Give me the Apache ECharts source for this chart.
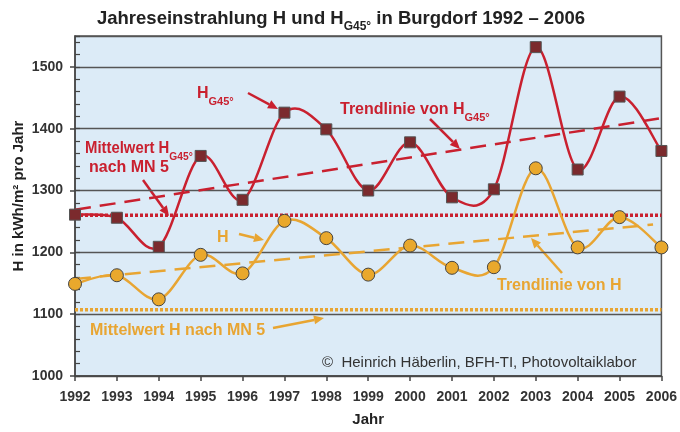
<!DOCTYPE html>
<html>
<head>
<meta charset="utf-8">
<script src="https://cdn.jsdelivr.net/npm/echarts@6/dist/echarts.min.js"></script>
<style>
  html, body { margin: 0; padding: 0; background: #fff; }
  #chart { width: 680px; height: 432px; }
</style>
</head>
<body>
<div id="chart"></div>
<script>
// Jahreswerte (kWh/m2)
const years = [1992, 1993, 1994, 1995, 1996, 1997, 1998, 1999, 2000, 2001, 2002, 2003, 2004, 2005, 2006];
const hG45 = [1261, 1256, 1209, 1356, 1285, 1426, 1399, 1300, 1378, 1289, 1302, 1532, 1334, 1452, 1364];
const h = [1149, 1163, 1124, 1196, 1166, 1251, 1223, 1164, 1211, 1175, 1176, 1336, 1208, 1257, 1208];
// Mittelwerte nach MN 5
const meanYears = [1992, 2006];
const meanHG45 = [1260, 1260];
const meanH = [1107, 1107];
// Trendlinien
const trendHG45Years = [1992, 2006];
const trendHG45 = [1269, 1417];
const trendHYears = [1992, 2005.8];
const trendH = [1157, 1245];

const RED = '#c9202f';
const ORANGE = '#e8a532';
const FONT = 'Liberation Sans';

const pairs = (xs, ys) => xs.map((x, i) => [x, ys[i]]);

// Kurve durch alle Punkte (Catmull-Rom), Koordinaten via api.coord
function splineItem(points, color) {
  return function (params, api) {
    if (params.dataIndex !== 0) return null;
    const p = points.map(d => api.coord(d));
    let path = 'M' + p[0][0] + ' ' + p[0][1];
    for (let i = 0; i < p.length - 1; i++) {
      const p0 = p[Math.max(i - 1, 0)], p1 = p[i], p2 = p[i + 1], p3 = p[Math.min(i + 2, p.length - 1)];
      const c1x = p1[0] + (p2[0] - p0[0]) / 6, c1y = p1[1] + (p2[1] - p0[1]) / 6;
      const c2x = p2[0] - (p3[0] - p1[0]) / 6, c2y = p2[1] - (p3[1] - p1[1]) / 6;
      path += ' C' + c1x + ' ' + c1y + ' ' + c2x + ' ' + c2y + ' ' + p2[0] + ' ' + p2[1];
    }
    return {
      type: 'path', shape: { pathData: path },
      style: { fill: 'none', stroke: color, lineWidth: 2.5 }
    };
  };
}

function arrow(x1, y1, x2, y2, color) {
  const a = Math.atan2(y2 - y1, x2 - x1), L = 10, W = 4.5;
  const bx = x2 - L * Math.cos(a), by = y2 - L * Math.sin(a);
  const px = -Math.sin(a) * W, py = Math.cos(a) * W;
  return {
    type: 'group', z: 20, children: [
      { type: 'line', shape: { x1: x1, y1: y1, x2: bx, y2: by }, style: { stroke: color, lineWidth: 2.5 } },
      { type: 'polygon', shape: { points: [[x2, y2], [bx + px, by + py], [bx - px, by - py]] }, style: { fill: color } }
    ]
  };
}

function label(x, y, text, color, size, scaleX) {
  return {
    type: 'text', x: x, y: y, z: 20, scaleX: scaleX || 1,
    style: {
      text: text, fill: color, verticalAlign: 'middle',
      rich: {
        a: { fontFamily: FONT, fontWeight: 'bold', fontSize: size, fill: color, lineHeight: size + 2 },
        b: { fontFamily: FONT, fontWeight: 'bold', fontSize: size - 5, fill: color, verticalAlign: 'bottom', padding: [0, 0, -4, 0] }
      }
    }
  };
}

const chart = echarts.init(document.getElementById('chart'));
chart.setOption({
  animation: false,
  backgroundColor: '#fff',
  grid: {
    left: 75, right: 17, top: 36, bottom: 52,
    show: true, backgroundColor: '#dcebf7', borderColor: '#555', borderWidth: 1.5
  },
  xAxis: {
    type: 'value', min: 1992, max: 2006, interval: 1,
    name: 'Jahr', nameLocation: 'middle', nameGap: 36,
    nameTextStyle: { fontFamily: FONT, fontWeight: 'bold', fontSize: 15, color: '#222' },
    axisLine: { lineStyle: { color: '#444', width: 1.5 } },
    axisTick: { length: 5, lineStyle: { color: '#444', width: 1.5 } },
    axisLabel: { margin: 14, fontFamily: FONT, fontWeight: 'bold', fontSize: 14, color: '#333', formatter: v => String(v) },
    splitLine: { show: false }
  },
  yAxis: [{
    type: 'value', min: 1000, max: 1550, interval: 100, position: 'left',
    axisLine: { show: true, lineStyle: { color: '#444', width: 1.5 } },
    axisTick: { length: 5, lineStyle: { color: '#444', width: 1.5 } },
    axisLabel: { showMaxLabel: false, margin: 12, fontFamily: FONT, fontWeight: 'bold', fontSize: 14, color: '#333', formatter: v => String(v) },
    splitLine: { lineStyle: { color: '#555', width: 1.3 } }
  }, {
    type: 'value', min: 1000, max: 1550, interval: 20, position: 'left',
    axisLine: { show: false },
    axisTick: { inside: true, length: 5, lineStyle: { color: '#444', width: 1.2 } },
    axisLabel: { show: false },
    splitLine: { show: false }
  }],
  series: [
    {
      type: 'line', name: 'Mittelwert HG45', data: pairs(meanYears, meanHG45), symbol: 'none', z: 2,
      lineStyle: { color: RED, width: 3.5, type: [3, 2] }
    },
    {
      type: 'line', name: 'Mittelwert H', data: pairs(meanYears, meanH), symbol: 'none', z: 2,
      lineStyle: { color: ORANGE, width: 3.5, type: [3, 2] }
    },
    {
      type: 'line', name: 'Trend HG45', data: pairs(trendHG45Years, trendHG45), symbol: 'none', z: 2,
      lineStyle: { color: RED, width: 2.5, type: [16, 9] }
    },
    {
      type: 'line', name: 'Trend H', data: pairs(trendHYears, trendH), symbol: 'none', z: 2,
      lineStyle: { color: ORANGE, width: 2.5, type: [16, 9] }
    },
    {
      type: 'custom', name: 'HG45 Kurve', data: pairs(years, hG45), z: 4,
      encode: { x: 0, y: 1 }, renderItem: splineItem(pairs(years, hG45), RED)
    },
    {
      type: 'custom', name: 'H Kurve', data: pairs(years, h), z: 4,
      encode: { x: 0, y: 1 }, renderItem: splineItem(pairs(years, h), ORANGE)
    },
    {
      type: 'scatter', name: 'HG45', data: pairs(years, hG45), z: 6,
      symbol: 'rect', symbolSize: 11,
      itemStyle: { color: '#7b2a2d', borderColor: '#555', borderWidth: 1, opacity: 1 }
    },
    {
      type: 'scatter', name: 'H', data: pairs(years, h), z: 6,
      symbol: 'circle', symbolSize: 13,
      itemStyle: { color: '#e9a82c', borderColor: '#444', borderWidth: 1, opacity: 1 }
    }
  ],
  graphic: [
    {
      type: 'text', x: 341, y: 19, z: 20,
      style: {
        text: '{a|Jahreseinstrahlung H und H}{b|G45°}{a| in Burgdorf 1992 – 2006}',
        align: 'center', verticalAlign: 'middle',
        rich: {
          a: { fontFamily: FONT, fontWeight: 'bold', fontSize: 18.5, fill: '#222', lineHeight: 20 },
          b: { fontFamily: FONT, fontWeight: 'bold', fontSize: 12, fill: '#222', verticalAlign: 'bottom', padding: [0, 0, -4, 0] }
        }
      }
    },
    {
      type: 'text', x: 19, y: 196, rotation: Math.PI / 2, z: 20,
      style: { text: 'H in kWh/m² pro Jahr', fill: '#222', align: 'center', verticalAlign: 'middle',
        font: 'bold 15px "Liberation Sans"' }
    },
    label(197, 94, '{a|H}{b|G45°}', RED, 16),
    arrow(248, 93, 278, 109, RED),
    label(340, 110, '{a|Trendlinie von H}{b|G45°}', RED, 16),
    arrow(430, 119, 460, 149, RED),
    label(85, 149, '{a|Mittelwert H}{b|G45°}', RED, 16, 0.93),
    label(89, 168, '{a|nach MN 5}', RED, 16),
    arrow(143, 180, 169, 216, RED),
    label(217, 238, '{a|H}', ORANGE, 16),
    arrow(239, 234, 264, 240, ORANGE),
    label(497, 286, '{a|Trendlinie von H}', ORANGE, 16),
    arrow(562, 273, 531, 238, ORANGE),
    label(90, 331, '{a|Mittelwert H nach MN 5}', ORANGE, 16),
    arrow(273, 328, 324, 318, ORANGE),
    {
      type: 'text', x: 322, y: 363, z: 20,
      style: { text: '©  Heinrich Häberlin, BFH-TI, Photovoltaiklabor', fill: '#333', verticalAlign: 'middle',
        font: '15px "Liberation Sans"' }
    }
  ]
});
</script>
</body>
</html>
